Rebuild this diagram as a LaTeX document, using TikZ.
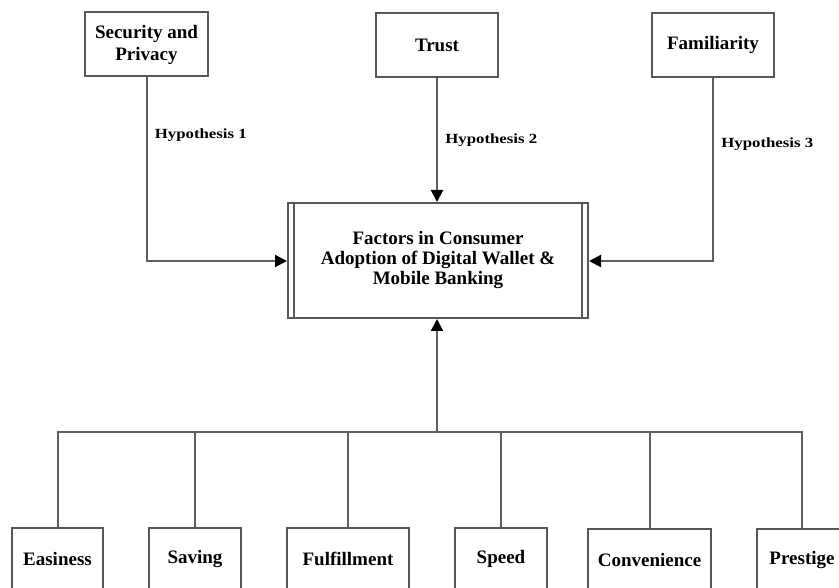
\documentclass[tikz,border=0pt]{standalone}
\usepackage{fontspec}
\setmainfont{Liberation Serif}
\newfontfamily\hypfont[FakeStretch=1.2]{Liberation Serif}
\usepackage{tikz}
\usetikzlibrary{arrows.meta}
\usetikzlibrary{calc}
\definecolor{boxgray}{HTML}{585858}
\definecolor{linegray}{HTML}{5e5e5e}
\tikzset{every edge/.style={draw=linegray, line width=2pt}}
\tikzset{box/.style={draw=boxgray, line width=2pt, fill=white, align=center,
    font=\bfseries\fontsize{19}{22}\selectfont, inner sep=0pt},
  hyp/.style={font=\hypfont\bfseries\fontsize{14}{16}\selectfont, anchor=west, xshift=4pt},
  conn/.style={draw=linegray, line width=2pt},
  arr/.style={conn, -{Triangle[length=12pt,width=12pt,color=black,fill=black]}}}

\begin{document}
\begin{tikzpicture}[x=1pt, y=-1pt]       % adoption model
    \useasboundingbox (0,0) rectangle (839,588);
    \clip (0,0) rectangle (839,588);
    \node[box, minimum width=123pt, minimum height=64pt] at (146.5, 44.5) (sec) {Security and\\Privacy};
    \node[box, minimum width=122pt, minimum height=64pt] at (437, 45) (trust) {Trust};
    \node[box, minimum width=122pt, minimum height=64pt] at (713, 45) (fam) {Familiarity};
    \node[box, minimum width=300pt, minimum height=115pt,
      font=\bfseries\fontsize{19}{20}\selectfont] at (438, 260.5) (adopt)
      {Factors in Consumer\\Adoption of Digital Wallet \&\\Mobile Banking};
    \draw[draw=boxgray, line width=2pt] ([xshift=7pt]adopt.north west) -- ([xshift=7pt]adopt.south west);
    \draw[draw=boxgray, line width=2pt] ([xshift=-7pt]adopt.north east) -- ([xshift=-7pt]adopt.south east);

    \node[box, minimum width=91pt, minimum height=62pt] at (57.5, 559) (eas) {Easiness};
    \node[box, minimum width=92pt, minimum height=62pt] at (195, 559) (sav) {Saving};
    \node[box, minimum width=122pt, minimum height=62pt] at (348, 559) (ful) {Fulfillment};
    \node[box, minimum width=92pt, minimum height=62pt] at (501, 559) (spd) {Speed};
    \node[box, minimum width=123pt, minimum height=62pt] at (649.5, 560) (con) {Convenience};
    \node[box, minimum width=90pt, minimum height=62pt] at (802, 560) (pre) {Prestige};

    \draw[arr] (sec.south) |- node[hyp, pos=0.156] {Hypothesis 1} ([yshift=-0.5pt]adopt.west);
    \draw[arr] (trust.south) -- node[hyp, pos=0.5] {Hypothesis 2} (trust.south |- adopt.north);
    \draw[arr] (fam.south) |- node[hyp, pos=0.18] {Hypothesis 3} ([yshift=-0.5pt]adopt.east);

    \coordinate (bus) at (437, 432);
    \draw[conn] (eas.north) |- (bus) -| (pre.north);
    \foreach \b in {sav, ful, spd, con}
      \draw (\b.north) edge (\b.north |- bus);
    \draw[arr] (bus) -- (bus |- adopt.south);
\end{tikzpicture}
\end{document}
